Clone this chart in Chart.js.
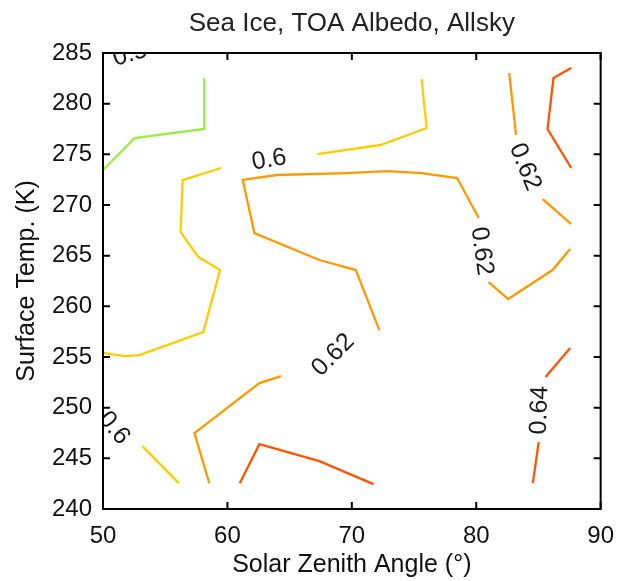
<!DOCTYPE html>
<html>
<head>
<meta charset="utf-8">
<script src="https://cdn.jsdelivr.net/npm/chart.js@4.4.0/dist/chart.umd.min.js"></script>
<style>
  html, body { margin: 0; padding: 0; background: #fff; }
</style>
</head>
<body>
<canvas id="albedoContour" width="627" height="581"></canvas>
<script>
// contour pieces (x = solar zenith angle, y = surface temp)
const level050 = [
  {x: 50.0, y: 273.45}, {x: 52.53, y: 276.6}, {x: 58.14, y: 277.5}, {x: 58.14, y: 282.5}
];
const level060a = [
  {x: 59.49, y: 273.65}, {x: 56.40, y: 272.46}, {x: 56.24, y: 267.33}, {x: 57.67, y: 264.86},
  {x: 59.41, y: 263.58}, {x: 58.06, y: 257.46}, {x: 52.92, y: 255.19}, {x: 51.74, y: 255.09},
  {x: 50.0, y: 255.4}
];
const level060b = [
  {x: 67.23, y: 275.03}, {x: 72.29, y: 275.92}, {x: 76.01, y: 277.6}, {x: 75.61, y: 282.43}
];
const level060c = [
  {x: 53.16, y: 246.2}, {x: 56.09, y: 242.55}
];
const level062a = [
  {x: 72.21, y: 257.66}, {x: 70.32, y: 263.58}, {x: 67.39, y: 264.57}, {x: 62.17, y: 267.23},
  {x: 61.23, y: 272.47}, {x: 63.99, y: 272.96}, {x: 69.53, y: 273.15}, {x: 72.85, y: 273.35},
  {x: 75.61, y: 273.15}, {x: 78.46, y: 272.66}, {x: 80.20, y: 268.71}
];
const level062b = [
  {x: 80.99, y: 262.39}, {x: 82.57, y: 260.72}, {x: 86.13, y: 263.58}, {x: 87.55, y: 265.65}
];
const level062c = [
  {x: 82.65, y: 283.03}, {x: 83.20, y: 276.9}
];
const level062d = [
  {x: 85.34, y: 270.59}, {x: 87.63, y: 268.12}
];
const level062e = [
  {x: 64.31, y: 253.11}, {x: 62.57, y: 252.42}, {x: 57.35, y: 247.49}, {x: 58.54, y: 242.55}
];
const level064a = [
  {x: 60.99, y: 242.55}, {x: 62.57, y: 246.4}, {x: 67.39, y: 244.72}, {x: 71.74, y: 242.45}
];
const level064b = [
  {x: 87.63, y: 283.52}, {x: 86.21, y: 282.53}, {x: 85.73, y: 277.5}, {x: 87.63, y: 273.65}
];
const level064c = [
  {x: 87.55, y: 255.88}, {x: 85.57, y: 253.02}
];
const level064d = [
  {x: 85.02, y: 246.6}, {x: 84.55, y: 242.55}
];

// inline contour labels: text, position, rotation (deg)
const labelText = ['0.5', '0.6', '0.62', '0.62', '0.62', '0.64', '0.6'];
const labelX = [52.17, 63.36, 83.91, 80.43, 68.50, 85.10, 50.87];
const labelY = [284.86, 274.44, 273.75, 265.45, 255.19, 249.76, 247.98];
const labelAngle = [-17, -10, 68, 82, -45, -88, 50];

const xTicks = [50, 60, 70, 80, 90];
const yTicks = [240, 245, 250, 255, 260, 265, 270, 275, 280, 285];

const green = '#99ee44';
const yellow = '#ffcc00';
const orange = '#ff9900';
const red = '#ff5500';

function piece(points, color) {
  return {
    data: points,
    showLine: true,
    borderColor: color,
    borderWidth: 2.3,
    pointRadius: 0,
    fill: false,
    tension: 0
  };
}

const FONT = "'Liberation Sans', Arial, sans-serif";

// box with inward ticks plus the contour labels
const boxAndLabels = {
  id: 'boxAndLabels',
  afterDatasetsDraw(chart) {
    const {ctx, chartArea: a, scales: {x, y}} = chart;
    ctx.save();
    ctx.beginPath();
    ctx.rect(a.left, a.top, a.right - a.left, a.bottom - a.top);
    ctx.clip();
    ctx.fillStyle = '#1a1a1a';
    ctx.font = '25px ' + FONT;
    ctx.textAlign = 'center';
    ctx.textBaseline = 'middle';
    labelText.forEach((t, i) => {
      ctx.save();
      ctx.translate(x.getPixelForValue(labelX[i]), y.getPixelForValue(labelY[i]));
      ctx.rotate(labelAngle[i] * Math.PI / 180);
      ctx.fillText(t, 0, 0);
      ctx.restore();
    });
    ctx.restore();

    ctx.save();
    ctx.strokeStyle = '#000';
    ctx.lineWidth = 2;
    ctx.strokeRect(a.left, a.top, a.right - a.left, a.bottom - a.top);
    const len = 7;
    ctx.beginPath();
    xTicks.forEach(v => {
      const px = x.getPixelForValue(v);
      ctx.moveTo(px, a.bottom); ctx.lineTo(px, a.bottom - len);
      ctx.moveTo(px, a.top); ctx.lineTo(px, a.top + len);
    });
    yTicks.forEach(v => {
      const py = y.getPixelForValue(v);
      ctx.moveTo(a.left, py); ctx.lineTo(a.left + len, py);
      ctx.moveTo(a.right, py); ctx.lineTo(a.right - len, py);
    });
    ctx.stroke();
    ctx.restore();
  }
};

new Chart(document.getElementById('albedoContour').getContext('2d'), {
  type: 'scatter',
  data: {
    datasets: [
      piece(level050, green),
      piece(level060a, yellow),
      piece(level060b, yellow),
      piece(level060c, yellow),
      piece(level062a, orange),
      piece(level062b, orange),
      piece(level062c, orange),
      piece(level062d, orange),
      piece(level062e, orange),
      piece(level064a, red),
      piece(level064b, red),
      piece(level064c, red),
      piece(level064d, red)
    ]
  },
  options: {
    responsive: false,
    animation: false,
    devicePixelRatio: 1,
    layout: { padding: { top: 0, right: 18, left: 0, bottom: 0 } },
    scales: {
      x: {
        type: 'linear',
        min: 50,
        max: 90,
        afterBuildTicks: s => { s.ticks = xTicks.map(v => ({value: v})); },
        afterFit: s => { s.height = 72; },
        grid: { display: false, drawTicks: false },
        border: { display: false },
        ticks: {
          autoSkip: false,
          maxRotation: 0,
          padding: 13,
          color: '#111',
          font: { family: FONT, size: 24 }
        },
        title: {
          display: true,
          text: 'Solar Zenith Angle (°)',
          color: '#111',
          font: { family: FONT, size: 25 },
          padding: { top: 0, bottom: 1 }
        }
      },
      y: {
        type: 'linear',
        min: 240,
        max: 285,
        afterBuildTicks: s => { s.ticks = yTicks.map(v => ({value: v})); },
        afterFit: s => { s.width = 103; },
        grid: { display: false, drawTicks: false },
        border: { display: false },
        ticks: {
          autoSkip: false,
          padding: 11,
          color: '#111',
          font: { family: FONT, size: 24 }
        },
        title: {
          display: true,
          text: 'Surface Temp. (K)',
          color: '#111',
          font: { family: FONT, size: 25 },
          padding: { top: 12, bottom: 0 }
        }
      }
    },
    plugins: {
      legend: { display: false },
      tooltip: { enabled: false },
      title: {
        display: true,
        fullSize: false,
        text: 'Sea Ice, TOA Albedo, Allsky',
        color: '#222',
        font: { family: FONT, size: 26, weight: 'normal' },
        padding: { top: 8, bottom: 13.8 }
      }
    }
  },
  plugins: [boxAndLabels]
});
</script>
</body>
</html>
